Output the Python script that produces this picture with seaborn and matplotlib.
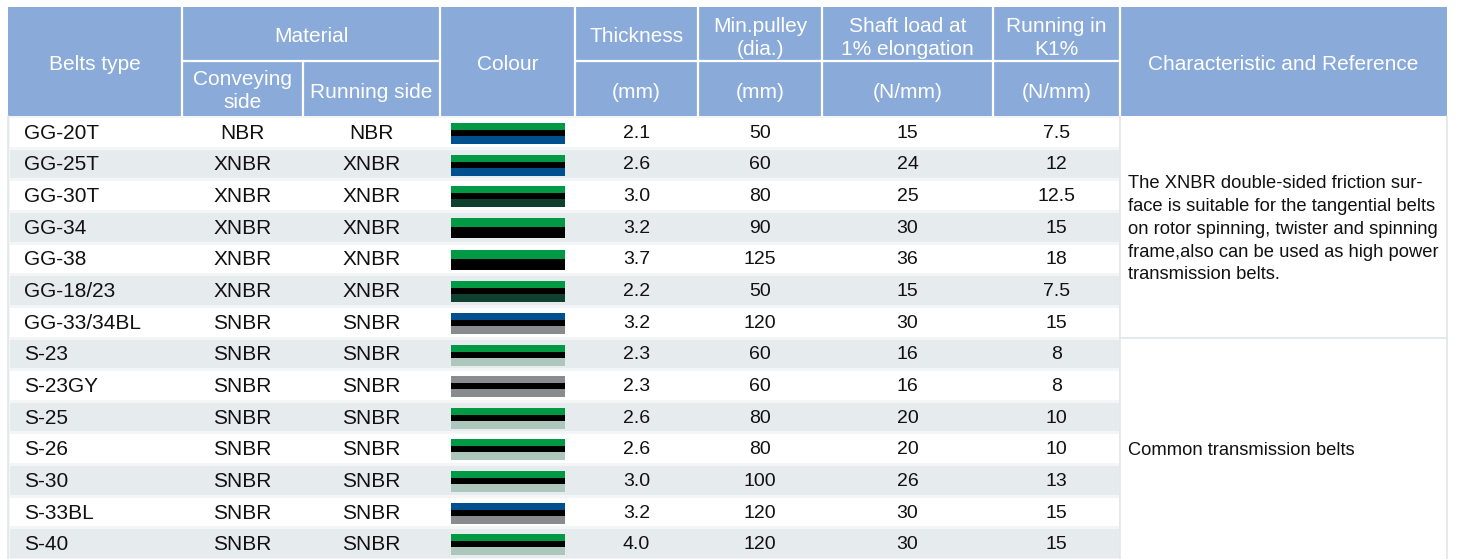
import matplotlib
matplotlib.use("Agg")
import matplotlib.pyplot as plt
import seaborn as sns
import numpy as np
from matplotlib.colors import ListedColormap
from matplotlib.patches import Rectangle

# table data
belt_types = ['GG-20T', 'GG-25T', 'GG-30T', 'GG-34', 'GG-38', 'GG-18/23', 'GG-33/34BL',
              'S-23', 'S-23GY', 'S-25', 'S-26', 'S-30', 'S-33BL', 'S-40']
conveying = ['NBR', 'XNBR', 'XNBR', 'XNBR', 'XNBR', 'XNBR', 'SNBR',
             'SNBR', 'SNBR', 'SNBR', 'SNBR', 'SNBR', 'SNBR', 'SNBR']
running_side = ['NBR', 'XNBR', 'XNBR', 'XNBR', 'XNBR', 'XNBR', 'SNBR',
                'SNBR', 'SNBR', 'SNBR', 'SNBR', 'SNBR', 'SNBR', 'SNBR']
thickness = [2.1, 2.6, 3.0, 3.2, 3.7, 2.2, 3.2, 2.3, 2.3, 2.6, 2.6, 3.0, 3.2, 4.0]
min_pulley = [50, 60, 80, 90, 125, 50, 120, 60, 60, 80, 80, 100, 120, 120]
shaft_load = [15, 24, 25, 30, 36, 15, 30, 16, 16, 20, 20, 26, 30, 30]
running_k1 = [7.5, 12, 12.5, 15, 18, 7.5, 15, 8, 8, 10, 10, 13, 15, 15]
belt_layers = [
    ['green', 'black', 'blue'],
    ['green', 'black', 'blue'],
    ['green', 'black', 'darkgreen'],
    ['green', 'black'],
    ['green', 'black'],
    ['green', 'black', 'darkgreen'],
    ['blue', 'black', 'grey'],
    ['green', 'black', 'sage'],
    ['grey', 'black', 'grey'],
    ['green', 'black', 'sage'],
    ['green', 'black', 'sage'],
    ['green', 'black', 'sage'],
    ['blue', 'black', 'grey'],
    ['green', 'black', 'sage'],
]
notes = [
    "The XNBR double-sided friction sur-\nface is suitable for the tangential belts\n"
    "on rotor spinning, twister and spinning\nframe,also can be used as high power\n"
    "transmission belts.",
    "Common transmission belts",
]
note_rows = [(0, 7), (7, 14)]

layer_colors = {'green': '#009a44', 'black': '#000000', 'blue': '#004f8e',
                'darkgreen': '#0f4030', 'grey': '#898b8e', 'sage': '#adc7bc'}

sns.set_theme(style="white")
plt.rcParams['font.family'] = ['Liberation Sans', 'DejaVu Sans']

W, H = 1459, 559
col_edges = [8, 182, 303, 440, 575, 698, 822, 993, 1120, 1447]
head_top, head_mid, head_bot = 7, 61, 116
n = len(belt_types)
row_h = (H - head_bot) / n
head_color = '#8aabd9'
stripe = '#e6ebee'
ink = '#111111'

fig = plt.figure(figsize=(W / 100, H / 100), dpi=100)

# alternating row shading with a seaborn heatmap under the body columns
hax = fig.add_axes([col_edges[0] / W, 0, (col_edges[8] - col_edges[0]) / W, (H - head_bot) / H])
parity = np.array([[i % 2] for i in range(n)])
sns.heatmap(parity, ax=hax, cmap=ListedColormap(['white', stripe]), cbar=False,
            linewidths=0.8, linecolor='#f3f5f6', xticklabels=False, yticklabels=False)
hax.set_zorder(1)

ax = fig.add_axes([0, 0, 1, 1])
ax.set_zorder(2)
ax.patch.set_alpha(0)
ax.set_xlim(0, W)
ax.set_ylim(H, 0)
ax.axis('off')

# header
ax.add_patch(Rectangle((col_edges[0], head_top), col_edges[-1] - col_edges[0],
                       head_bot - head_top, color=head_color, lw=0))
for x in col_edges[1:-1]:
    top = head_mid if x == col_edges[2] else head_top
    ax.plot([x, x], [top, head_bot], color='white', lw=1.6)
ax.plot([col_edges[1], col_edges[3]], [head_mid, head_mid], color='white', lw=1.6)
ax.plot([col_edges[4], col_edges[8]], [head_mid, head_mid], color='white', lw=1.6)

hs = 15
def htext(x, y, s, size=hs):
    ax.text(x, y, s, ha='center', va='center', color='white', fontsize=size, linespacing=1.22)

mid = lambda a, b: (col_edges[a] + col_edges[b]) / 2
htext(mid(0, 1), 65, 'Belts type')
htext(mid(1, 3), 37, 'Material')
htext(mid(1, 2), 91, 'Conveying\nside')
htext(mid(2, 3), 92, 'Running side')
htext(mid(3, 4), 65, 'Colour')
htext(mid(4, 5), 37, 'Thickness')
htext(mid(5, 6), 38, 'Min.pulley\n(dia.)')
htext(mid(6, 7), 38, 'Shaft load at\n1% elongation')
htext(mid(7, 8), 38, 'Running in\nK1%')
htext(mid(8, 9), 65, 'Characteristic and Reference')
for c, unit in zip([4, 5, 6, 7], ['(mm)', '(mm)', '(N/mm)', '(N/mm)']):
    htext(mid(c, c + 1), 92, unit)

# body text
ts, ns = 15, 14
for i in range(n):
    yc = head_bot + (i + 0.5) * row_h + 1.5
    ax.text(24, yc, belt_types[i], ha='left', va='center', fontsize=ts, color=ink)
    ax.text(mid(1, 2), yc, conveying[i], ha='center', va='center', fontsize=ts, color=ink)
    ax.text(mid(2, 3), yc, running_side[i], ha='center', va='center', fontsize=ts, color=ink)
    ax.text(mid(4, 5), yc, f"{thickness[i]:.1f}", ha='center', va='center', fontsize=ns, color=ink)
    ax.text(mid(5, 6), yc, f"{min_pulley[i]}", ha='center', va='center', fontsize=ns, color=ink)
    ax.text(mid(6, 7), yc, f"{shaft_load[i]}", ha='center', va='center', fontsize=ns, color=ink)
    ax.text(mid(7, 8), yc, f"{running_k1[i]:g}", ha='center', va='center', fontsize=ns, color=ink)

    # colour swatch
    layers = belt_layers[i]
    heights = [7, 6, 8] if len(layers) == 3 else [9.5, 11]
    cursor = head_bot + i * row_h + 7
    for name, h in zip(layers, heights):
        ax.bar(508, h, width=114, bottom=cursor, color=layer_colors[name], lw=0)
        cursor += h

# borders and characteristic column
border = '#e1e6e9'
ax.plot([col_edges[0], col_edges[0]], [head_bot, H], color=border, lw=1.2)
ax.plot([col_edges[8], col_edges[8]], [head_bot, H], color=border, lw=1.2)
ax.plot([col_edges[9], col_edges[9]], [head_bot, H], color=border, lw=1.2)
for (a, b), note in zip(note_rows, notes):
    y0 = head_bot + a * row_h
    y1 = head_bot + b * row_h
    if a > 0:
        ax.plot([col_edges[8], col_edges[9]], [y0, y0], color=border, lw=1.2)
    ax.text(col_edges[8] + 8, (y0 + y1) / 2 + 2.5, note, ha='left', va='center',
            fontsize=13.2, color=ink, linespacing=1.45)

fig.savefig('out.png', dpi=100)
